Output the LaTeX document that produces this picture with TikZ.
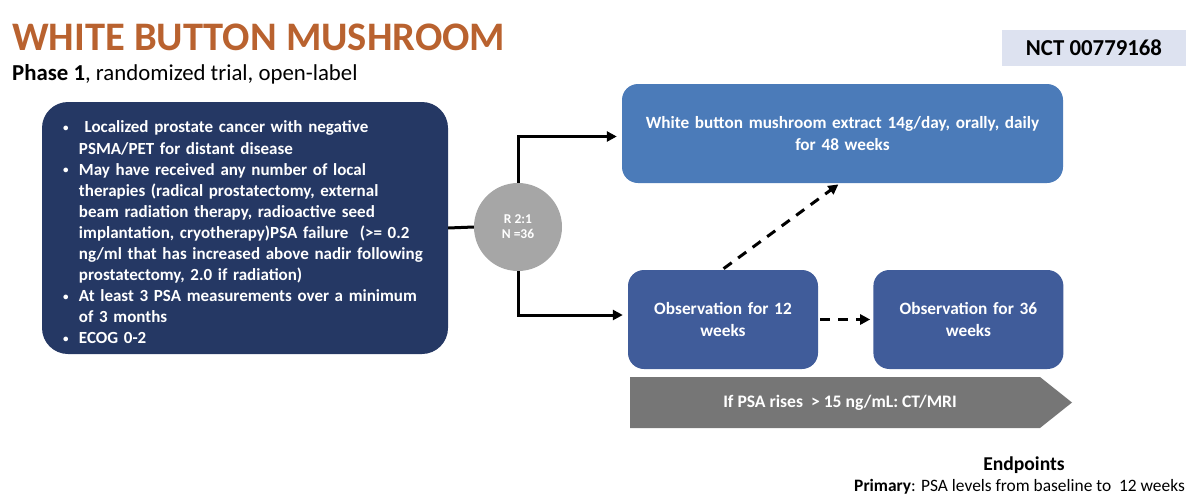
\documentclass[tikz,border=0pt]{standalone}
\usepackage{fontspec}
\setmainfont{Carlito}
\usepackage{enumitem}
\usepackage{tikz}
\usetikzlibrary{arrows.meta, positioning}

\definecolor{titleorange}{HTML}{B9622F}
\definecolor{navy}{HTML}{253864}
\definecolor{armblue}{HTML}{4B7BB9}
\definecolor{obsblue}{HTML}{405C9A}
\definecolor{randgray}{HTML}{A6A6A6}
\definecolor{psagray}{HTML}{767676}
\definecolor{nctfill}{HTML}{DDE2F0}

\newcommand{\critbullet}{\raisebox{1.5pt}{\fontsize{11}{11}\selectfont\textbullet}}

\begin{document}
\begin{tikzpicture}[
  x=1pt, y=-1pt,
  criteria/.style={rectangle, rounded corners=26pt, fill=navy, text=white, minimum width=406pt, minimum height=252pt, inner xsep=21pt, text width=364pt, align=left, font=\bfseries\fontsize{17}{21.1}\selectfont},
  armbox/.style={rectangle, rounded corners=16pt, fill=armblue, text=white, minimum width=441pt, minimum height=99pt, text width=425pt, align=center, font=\bfseries\fontsize{17.2}{22}\selectfont},
  obsbox/.style={rectangle, rounded corners=16pt, fill=obsblue, text=white, minimum width=190pt, minimum height=99pt, text width=176pt, align=center, font=\bfseries\fontsize{17.3}{22}\selectfont},
  randcirc/.style={circle, fill=randgray, text=white, minimum size=88pt, align=center, font=\bfseries\fontsize{13.5}{15}\selectfont},
  line/.style={draw, line width=3pt, -{Triangle[length=10pt,width=10pt]}},
  dashline/.style={line, dash pattern=on 10pt off 8pt}
]
  \useasboundingbox (0,0) rectangle (1200,501);

  % header
  \node [anchor=base west, inner sep=0pt, text=titleorange, font=\bfseries\fontsize{40.5}{44}\selectfont] (title) at (12,50) {WHITE BUTTON MUSHROOM};
  \node [anchor=base west, inner sep=0pt, font=\fontsize{22.8}{24}\selectfont] (subtitle) at (12,80) {\textbf{Phase 1}, randomized trial, open-label};
  \node [fill=nctfill, minimum width=184pt, minimum height=36pt, font=\bfseries\fontsize{22.8}{24}\selectfont] (nct) at (1094,48) {NCT 00779168};

  % eligibility
  \node [criteria] (crit) at (245,228) {%
    \begin{itemize}[leftmargin=16pt, labelwidth=16pt, labelsep=0pt, align=left, label=\critbullet, itemsep=0pt, topsep=0pt, parsep=0pt, partopsep=0pt]
      \item \ Localized prostate cancer with negative\newline PSMA/PET for distant disease
      \item May have received any number of local\newline therapies (radical prostatectomy, external\newline beam radiation therapy, radioactive seed\newline implantation, cryotherapy)PSA failure\ \ (>= 0.2\newline ng/ml that has increased above nadir following\newline prostatectomy, 2.0 if radiation)
      \item At least 3 PSA measurements over a minimum\newline of 3 months
      \item ECOG 0-2
    \end{itemize}};

  \node [randcirc] (rand) at (518,227) {R 2:1\\N =36};

  % arms
  \node [armbox] (arm) at (842.5,133.5) {White button mushroom extract 14g/day, orally, daily\\for 48 weeks};
  \node [obsbox] (obs12) at (723,319.5) {Observation for 12\\weeks};
  \node [obsbox, right=55pt of obs12] (obs36) {Observation for 36\\weeks};

  % PSA banner
  \fill [psagray] (630,377) -- (1040,377) -- (1072,402.5) -- (1040,428) -- (630,428) -- cycle;
  \node [text=white, font=\bfseries\fontsize{17.6}{20}\selectfont] (psa) at (840,403) {If PSA rises\ \ > 15 ng/mL: CT/MRI};

  % endpoints
  \node [anchor=base, inner sep=0pt, font=\bfseries\fontsize{19.6}{22}\selectfont] (endp) at (1024,470) {Endpoints};
  \node [anchor=base east, inner sep=0pt, font=\fontsize{17.4}{20}\selectfont] (primary) at (1185,491) {\textbf{Primary}: PSA levels from baseline to\ \ 12 weeks};

  % connectors
  \draw [line width=3pt] (crit.east) -- (rand.west);
  \draw [line, shorten >=5pt] (rand.north) |- ([yshift=-3pt]arm.west);
  \draw [line, shorten >=5pt] (rand.south) |- ([yshift=4.5pt]obs12.west);
  \draw [dashline, shorten <=2pt, shorten >=3pt] (obs12.east) -- (obs36.west);
  \draw [dashline, shorten <=2pt, shorten >=2pt] ([xshift=-1pt]obs12.north) -- ([xshift=-2.5pt]arm.south);
\end{tikzpicture}
\end{document}
